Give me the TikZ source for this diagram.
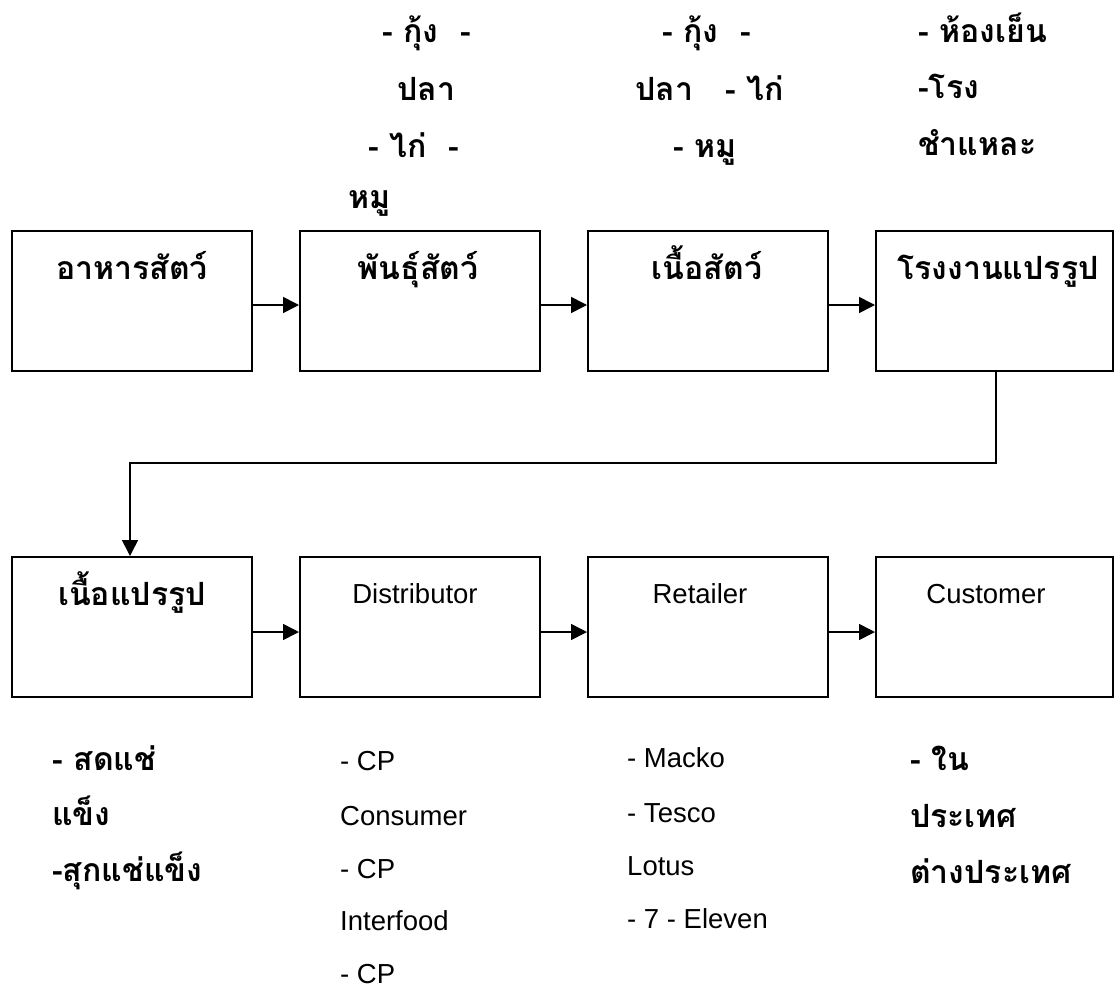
\documentclass[tikz,border=0pt]{standalone}
\usepackage{fontspec}
\setmainfont{Liberation Sans}
\newfontfamily\thaifont[Script=Thai]{Loma}
\usetikzlibrary{arrows.meta}
\begin{document}
\begin{tikzpicture}[x=1pt,y=-1pt,
  box/.style={draw, line width=2pt, minimum width=240pt, minimum height=140pt, inner sep=0pt},
  conn/.style={line width=1.6pt, -{Triangle[length=16pt,width=16pt]}},
  th/.style={font=\thaifont\bfseries\fontsize{32}{38}\selectfont, inner sep=0pt},
  en/.style={font=\fontsize{27.5}{32}\selectfont, inner sep=0pt},
  lt/.style={anchor=base west},
  tt/.style={anchor=base}]
\useasboundingbox[fill=white] (0,0) rectangle (1115,990);

% boxes
\node[box] (b1) at (132,301) {};
\node[box] (b2) at (420,301) {};
\node[box] (b3) at (708,301) {};
\node[box, minimum width=237pt] (b4) at (994.5,301) {};
\node[box] (b5) at (132,627) {};
\node[box] (b6) at (420,627) {};
\node[box] (b7) at (708,627) {};
\node[box, minimum width=237pt] (b8) at (994.5,627) {};

% titles
\node[th,tt] (t1) at (132,279) {อาหารสัตว์};
\node[th,tt] (t2) at (418,279) {พันธุ์สัตว์};
\node[th,tt] (t3) at (707,279) {เนื้อสัตว์};
\node[th,tt] (t4) at (998,279) {โรงงานแปรรูป};
\node[th,tt] (t5) at (132,605) {เนื้อแปรรูป};
\node[en,tt] (t6) at (415,603) {Distributor};
\node[en,tt] (t7) at (700,603) {Retailer};
\node[en,tt] (t8) at (986,603) {Customer};

% connectors
\draw[conn] ([yshift=-4pt]b1.east) -- ([yshift=-4pt]b2.west);
\draw[conn] ([yshift=-4pt]b2.east) -- ([yshift=-4pt]b3.west);
\draw[conn] ([yshift=-4pt]b3.east) -- ([yshift=-4pt]b4.west);
\draw[conn] ([yshift=-5pt]b5.east) -- ([yshift=-5pt]b6.west);
\draw[conn] ([yshift=-5pt]b6.east) -- ([yshift=-5pt]b7.west);
\draw[conn] ([yshift=-5pt]b7.east) -- ([yshift=-5pt]b8.west);
\coordinate (e1) at (996,371);
\coordinate (e2) at (996,463);
\coordinate (e3) at (130,463);
\draw[conn] (e1) -- (e2) -- (e3) -- (e3 |- b5.north);

% top annotations
\node[th,lt] (a1) at (382,43) {- กุ้ง~~-};
\node[th,lt] (a2) at (397,100) {ปลา};
\node[th,lt] (a3) at (368,157) {- ไก่~~-};
\node[th,lt] (a4) at (348,208) {หมู};
\node[th,lt] (a5) at (662,43) {- กุ้ง~~-};
\node[th,lt] (a6) at (635,100) {ปลา~~~- ไก่};
\node[th,lt] (a7) at (673,157) {- หมู};
\node[th,lt] (a8) at (918,43) {- ห้องเย็น};
\node[th,lt] (a9) at (918,98) {-โรง};
\node[th,lt] (a10) at (918,155) {ชำแหละ};

% bottom annotations
\node[th,lt] (c1) at (52,770) {- สดแช่};
\node[th,lt] (c2) at (52,825) {แข็ง};
\node[th,lt] (c3) at (52,881) {-สุกแช่แข็ง};
\node[en,lt] (d1) at (340,770) {- CP};
\node[en,lt] (d2) at (340,825) {Consumer};
\node[en,lt] (d3) at (340,878) {- CP};
\node[en,lt] (d4) at (340,930) {Interfood};
\node[en,lt] (d5) at (340,983) {- CP};
\node[en,lt] (f1) at (627,767) {- Macko};
\node[en,lt] (f2) at (627,822) {- Tesco};
\node[en,lt] (f3) at (627,875) {Lotus};
\node[en,lt] (f4) at (627,928) {- 7 - Eleven};
\node[th,lt] (g1) at (910,770) {- ใน};
\node[th,lt] (g2) at (910,827) {ประเทศ};
\node[th,lt] (g3) at (910,883) {ต่างประเทศ};
\end{tikzpicture}
\end{document}
